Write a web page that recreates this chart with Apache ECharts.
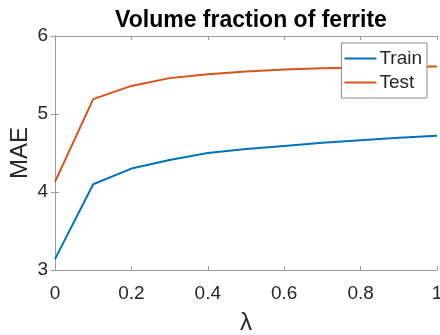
<!DOCTYPE html>
<html>
<head>
<meta charset="utf-8">
<script src="https://cdn.jsdelivr.net/npm/echarts@6/dist/echarts.min.js"></script>
<style>
  html, body { margin: 0; padding: 0; background: #fff; }
  #chart { width: 440px; height: 335px; }
</style>
</head>
<body>
<div id="chart"></div>
<script>
// Regularisation weight λ and the mean absolute error for each split
const lambdas = [0, 0.1, 0.2, 0.3, 0.4, 0.5, 0.6, 0.7, 0.8, 0.9, 1.0];
const trainMAE = [3.14, 4.10, 4.30, 4.41, 4.50, 4.55, 4.59, 4.63, 4.665, 4.695, 4.72];
const testMAE = [4.13, 5.19, 5.36, 5.46, 5.51, 5.545, 5.57, 5.585, 5.595, 5.605, 5.61];
const seriesNames = ['Train', 'Test'];
const xTicks = { min: 0, max: 1, interval: 0.2 };
const yTicks = { min: 3, max: 6, interval: 1 };

const FONT = "'Liberation Sans', Arial, Helvetica, sans-serif";
const AXIS_GRAY = '#9a9a9a';
const TEXT = '#262626';

const pairs = (xs, ys) => xs.map((x, i) => [x, ys[i]]);

// Box-style frame: bottom/left axes carry labels, top/right only mirror the ticks
function frameAxis(extra) {
  return Object.assign({
    type: 'value',
    axisLine: { show: true, lineStyle: { color: AXIS_GRAY, width: 1 } },
    axisTick: { show: true, inside: true, length: 4, lineStyle: { color: AXIS_GRAY } },
    splitLine: { show: false },
    axisLabel: { show: false }
  }, extra);
}

const chart = echarts.init(document.getElementById('chart'), null, { renderer: 'canvas' });
chart.setOption({
  animation: false,
  backgroundColor: '#fff',
  title: {
    text: 'Volume fraction of ferrite',
    left: 246,
    textAlign: 'center',
    top: 4,
    textStyle: { fontFamily: FONT, fontSize: 23, fontWeight: 'bold', color: '#000' }
  },
  grid: { left: 55, right: 3, top: 36, bottom: 65, outerBoundsMode: 'none', containLabel: false },
  legend: {
    data: seriesNames,
    orient: 'vertical',
    right: 13,
    top: 43,
    icon: 'rect',
    itemWidth: 32,
    itemHeight: 2,
    itemGap: 5,
    padding: [6, 5, 6, 3],
    backgroundColor: '#fff',
    borderColor: '#8a8a8a',
    borderWidth: 1,
    borderRadius: 0,
    textStyle: { fontFamily: FONT, fontSize: 19, color: TEXT, padding: [0, 0, 0, -2] }
  },
  xAxis: [
    frameAxis(Object.assign({
      position: 'bottom',
      name: 'λ',
      nameLocation: 'middle',
      nameGap: 41,
      nameMoveOverlap: false,
      nameTextStyle: { fontFamily: FONT, fontSize: 24, color: TEXT },
      axisLabel: { show: true, fontFamily: FONT, fontSize: 19, color: TEXT, margin: 14 }
    }, xTicks)),
    frameAxis(Object.assign({ position: 'top' }, xTicks))
  ],
  yAxis: [
    frameAxis(Object.assign({
      position: 'left',
      name: 'MAE',
      nameLocation: 'middle',
      nameRotate: 90,
      nameGap: 23,
      nameMoveOverlap: false,
      nameTextStyle: { fontFamily: FONT, fontSize: 24, color: TEXT },
      axisLabel: { show: true, fontFamily: FONT, fontSize: 19, color: TEXT, margin: 7 }
    }, yTicks)),
    frameAxis(Object.assign({ position: 'right' }, yTicks))
  ],
  series: [
    {
      name: seriesNames[0],
      type: 'line',
      data: pairs(lambdas, trainMAE),
      showSymbol: false,
      symbol: 'none',
      color: '#0072BD',
      lineStyle: { width: 2, color: '#0072BD' }
    },
    {
      name: seriesNames[1],
      type: 'line',
      data: pairs(lambdas, testMAE),
      showSymbol: false,
      symbol: 'none',
      color: '#D95319',
      lineStyle: { width: 2, color: '#D95319' }
    }
  ]
});
</script>
</body>
</html>
